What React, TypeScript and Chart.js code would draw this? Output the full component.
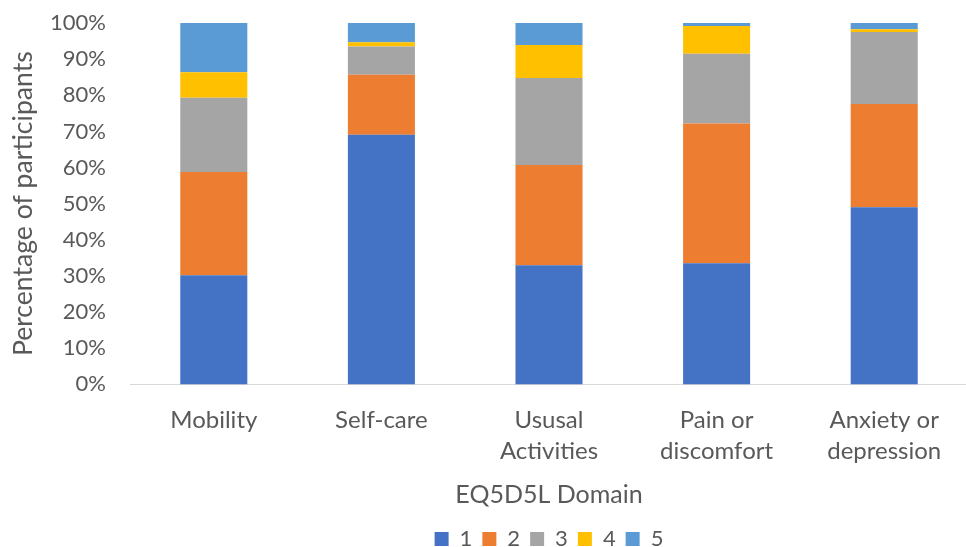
import React, { useEffect, useRef } from "react";
import { Chart, registerables } from "chart.js";

Chart.register(...registerables);

const categories: (string | string[])[] = [
  "Mobility",
  "Self-care",
  ["Ususal", "Activities"],
  ["Pain or", "discomfort"],
  ["Anxiety or", "depression"],
];
const level1 = [30.2, 69.1, 33.0, 33.5, 49.0];
const level2 = [28.6, 16.6, 27.7, 38.7, 28.6];
const level3 = [20.5, 7.8, 24.1, 19.3, 19.9];
const level4 = [7.1, 1.2, 9.1, 7.7, 0.8];
const level5 = [13.6, 5.3, 6.1, 0.8, 1.7];
const seriesNames = ["1", "2", "3", "4", "5"];
const seriesColors = ["#4472C4", "#ED7D31", "#A5A5A5", "#FFC000", "#5B9BD5"];
const yTicks = [0, 10, 20, 30, 40, 50, 60, 70, 80, 90, 100];

const FONT = "Lato, 'Open Sans', sans-serif";
const TEXT = "#595959";
const W = 968;
const H = 560;

export default function App() {
  const ref = useRef<HTMLCanvasElement | null>(null);
  useEffect(() => {
    if (!ref.current) return;
    const series = [level1, level2, level3, level4, level5];
    const chart = new Chart(ref.current, {
      type: "bar",
      data: {
        labels: categories,
        datasets: series.map((d, i) => ({
          label: seriesNames[i],
          data: d,
          backgroundColor: seriesColors[i],
          borderWidth: 0,
          barPercentage: 0.4,
          categoryPercentage: 1,
        })),
      },
      options: {
        animation: false,
        responsive: false,
        maintainAspectRatio: false,
        layout: { padding: { top: 0, right: 0, left: 0, bottom: 0 } },
        plugins: {
          tooltip: { enabled: false },
          legend: {
            position: "bottom",
            fullSize: false,
            labels: {
              boxWidth: 14,
              boxHeight: 14,
              padding: 10,
              color: TEXT,
              font: { family: FONT, size: 22 },
            },
          },
        },
        scales: {
          x: {
            stacked: true,
            grid: { display: false, drawTicks: false },
            border: { display: true, color: "#D9D9D9", width: 1 },
            ticks: {
              color: TEXT,
              font: { family: FONT, size: 24, lineHeight: 1.3 },
              maxRotation: 0,
              autoSkip: false,
              padding: 20,
            },
            title: {
              display: true,
              text: "EQ5D5L Domain",
              color: TEXT,
              font: { family: FONT, size: 25 },
              padding: { top: 11.6, bottom: 7.6 },
            },
            afterFit: (scale: any) => {
              scale.height = 133.6;
              scale.paddingLeft = 0;
              scale.paddingRight = 0;
            },
          },
          y: {
            stacked: true,
            min: 0,
            max: 100,
            afterBuildTicks: (axis: any) => {
              axis.ticks = yTicks.map((v) => ({ value: v }));
            },
            grid: { display: false, drawTicks: false },
            border: { display: false },
            ticks: {
              color: TEXT,
              font: { family: FONT, size: 22 },
              padding: 24,
              callback: (v: any) => v + "%",
            },
            title: {
              display: true,
              text: "Percentage of participants",
              color: TEXT,
              font: { family: FONT, size: 26.6 },
              padding: { top: 7, bottom: 6 },
            },
            afterFit: (scale: any) => {
              scale.width = 130;
              scale.paddingTop = 23;
              scale.paddingBottom = 0;
            },
          },
        },
      },
    });
    return () => chart.destroy();
  }, []);
  return (
    <div
      style={{
        position: "fixed",
        left: 0,
        top: 0,
        width: 966,
        height: 547,
        overflow: "hidden",
        background: "#fff",
      }}
    >
      <canvas ref={ref} width={W} height={H} style={{ width: W, height: H, display: "block" }} />
    </div>
  );
}
